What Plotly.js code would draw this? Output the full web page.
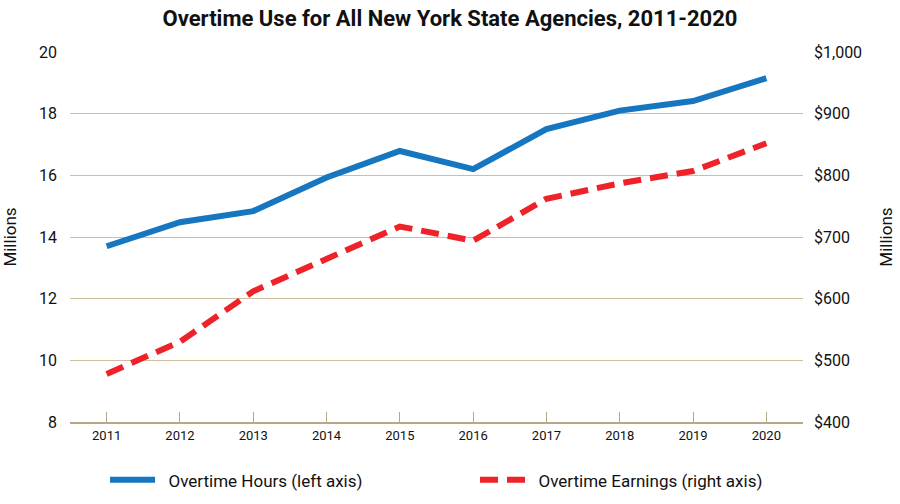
<!DOCTYPE html>
<html><head><meta charset="utf-8">
<script src="https://cdn.plot.ly/plotly-3.0.1.min.js"></script>
<style>html,body{margin:0;padding:0;background:#fff}#c{width:900px;height:504px}</style>
</head><body><div id="c"></div>
<script>
const years = ['2011','2012','2013','2014','2015','2016','2017','2018','2019','2020'];
const hours = [13.7, 14.48, 14.84, 15.93, 16.79, 16.2, 17.5, 18.1, 18.41, 19.15];
const earnings = [478, 530, 612, 664, 717, 694, 762, 787, 807, 852];
const leftTicks = [8, 10, 12, 14, 16, 18, 20];
const rightTicks = [400, 500, 600, 700, 800, 900, 1000];
const rightLabels = ['$400', '$500', '$600', '$700', '$800', '$900', '$1,000'];

const F = 'Roboto, "Liberation Sans", sans-serif';
const grid = '#cbbf9f';

const data = [
  {x: years, y: hours, name: '\u00a0\u00a0Overtime Hours (left axis)', type: 'scatter', mode: 'lines',
   line: {color: '#1776c0', width: 6}, yaxis: 'y', legend: 'legend'},
  {x: years, y: earnings, name: '\u00a0\u00a0Overtime Earnings (right axis)', type: 'scatter', mode: 'lines',
   line: {color: '#ee2229', width: 6, dash: '18px,9px'}, yaxis: 'y2', legend: 'legend2'}
];

const legendBase = {orientation: 'h', xref: 'container', yref: 'container', xanchor: 'left',
  y: 0.047, yanchor: 'middle', font: {family: F, size: 17, color: '#111'},
  itemwidth: 45, bgcolor: 'rgba(0,0,0,0)'};

const layout = {
  width: 900, height: 504,
  margin: {l: 70, r: 97, t: 52, b: 82},
  paper_bgcolor: '#fff', plot_bgcolor: '#fff',
  font: {family: F, color: '#111', size: 15},
  title: {text: '<b>Overtime Use for All New York State Agencies, 2011-2020</b>',
          font: {family: F, size: 22, color: '#111'}, x: 0.5, xanchor: 'center', y: 0.963, yanchor: 'middle'},
  showlegend: true,
  legend: Object.assign({}, legendBase, {x: 0.1167}),
  legend2: Object.assign({}, legendBase, {x: 0.5278}),
  xaxis: {type: 'category', range: [-0.5, 9.5], showgrid: false, zeroline: false,
          showline: true, linecolor: '#b8a888', linewidth: 2,
          ticks: 'inside', ticklen: 10, tickcolor: '#b8a888', tickwidth: 1,
          tickfont: {family: F, size: 13, color: '#111'}, fixedrange: true},
  yaxis: {range: [8, 20], tickvals: leftTicks, ticktext: leftTicks.map(String),
          showgrid: true, gridcolor: grid, gridwidth: 1, zeroline: false, showline: false,
          ticks: '', ticklabelstandoff: 12,
          tickfont: {family: F, size: 16, color: '#111'},
          title: {text: 'Millions', font: {family: F, size: 17, color: '#111'}, standoff: 18}},
  yaxis2: {range: [400, 1000], overlaying: 'y', side: 'right', tickvals: rightTicks, ticktext: rightLabels,
           showgrid: false, zeroline: false, showline: false, ticks: '', ticklabelstandoff: 10,
           tickfont: {family: F, size: 16, color: '#111'},
           title: {text: 'Millions', font: {family: F, size: 17, color: '#111'}, standoff: 18}}
};
Plotly.newPlot('c', data, layout, {displayModeBar: false, staticPlot: true});
</script></body></html>
